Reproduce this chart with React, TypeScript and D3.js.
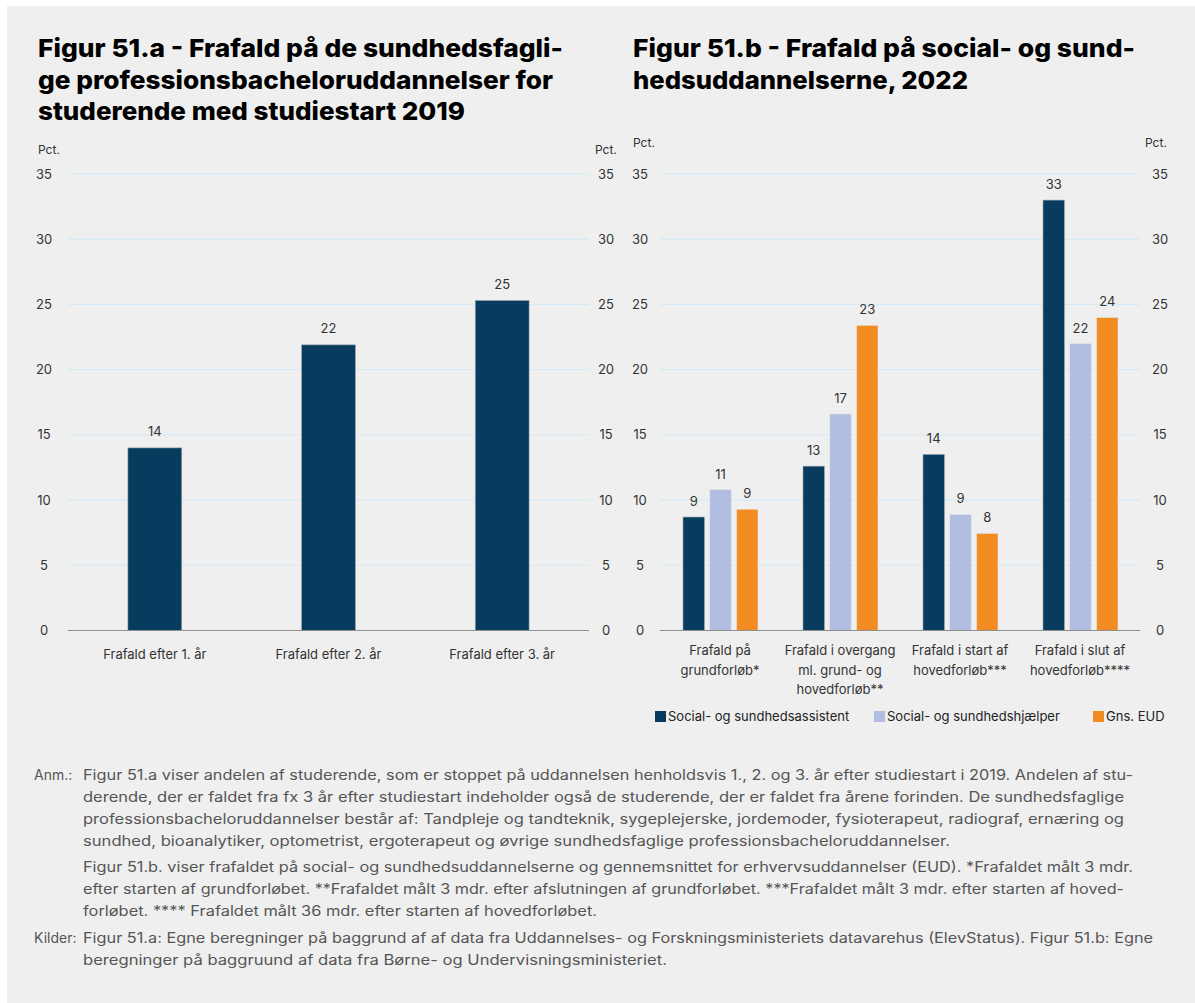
import React from "react";
import * as d3 from "d3";

const catsA = ["Frafald efter 1. år", "Frafald efter 2. år", "Frafald efter 3. år"];
const valuesA = [14.0, 21.9, 25.3];
const labelsA = ["14", "22", "25"];

const catsB = [
  ["Frafald på", "grundforløb*"],
  ["Frafald i overgang", "ml. grund- og", "hovedforløb**"],
  ["Frafald i start af", "hovedforløb***"],
  ["Frafald i slut af", "hovedforløb****"],
];
const seriesNames = ["Social- og sundhedsassistent", "Social- og sundhedshjælper", "Gns. EUD"];
const assistent = [8.7, 12.6, 13.5, 33.0];
const hjaelper = [10.8, 16.6, 8.9, 22.0];
const eud = [9.3, 23.4, 7.45, 24.0];
const labelsAssistent = ["9", "13", "14", "33"];
const labelsHjaelper = ["11", "17", "9", "22"];
const labelsEud = ["9", "23", "8", "24"];
const ticks = [0, 5, 10, 15, 20, 25, 30, 35];

const titleA = [
  "Figur 51.a - Frafald på de sundhedsfagli-",
  "ge professionsbacheloruddannelser for",
  "studerende med studiestart 2019",
];
const titleB = ["Figur 51.b - Frafald på social- og sund-", "hedsuddannelserne, 2022"];

const notes = [
  { head: "Anm.:", text: "Figur 51.a viser andelen af studerende, som er stoppet på uddannelsen henholdsvis 1., 2. og 3. år efter studiestart i 2019. Andelen af stu-", w: 1050 },
  { head: "", text: "derende, der er faldet fra fx 3 år efter studiestart indeholder også de studerende, der er faldet fra årene forinden. De sundhedsfaglige", w: 1041 },
  { head: "", text: "professionsbacheloruddannelser består af: Tandpleje og tandteknik, sygeplejerske, jordemoder, fysioterapeut, radiograf, ernæring og", w: 1041 },
  { head: "", text: "sundhed, bioanalytiker, optometrist, ergoterapeut og øvrige sundhedsfaglige professionsbacheloruddannelser.", w: 867 },
  { head: "", text: "Figur 51.b. viser frafaldet på social- og sundhedsuddannelserne og gennemsnittet for erhvervsuddannelser (EUD). *Frafaldet målt 3 mdr.", w: 1050 },
  { head: "", text: "efter starten af grundforløbet. **Frafaldet målt 3 mdr. efter afslutningen af grundforløbet. ***Frafaldet målt 3 mdr. efter starten af hoved-", w: 1041 },
  { head: "", text: "forløbet. **** Frafaldet målt 36 mdr. efter starten af hovedforløbet.", w: 514 },
  { head: "Kilder:", text: "Figur 51.a: Egne beregninger på baggrund af af data fra Uddannelses- og Forskningsministeriets datavarehus (ElevStatus). Figur 51.b: Egne", w: 1070 },
  { head: "", text: "beregninger på baggruund af data fra Børne- og Undervisningsministeriet.", w: 584 },
];
const noteY = [780, 802, 824, 846, 872, 894, 916, 943, 965];

const colors = ["#083c5e", "#b1bde1", "#f28c22"];
const FONT = "Inter, 'Open Sans', sans-serif";

export default function App() {
  const y = d3.scaleLinear().domain([0, 35]).range([630.5, 174]);

  const xA = d3.scaleBand().domain(catsA).range([68, 589]).paddingInner(0.69).paddingOuter(0.345);
  const xB = d3.scaleBand().domain(catsB.map((c) => c.join(" "))).range([660, 1140]);
  const xInner = d3.scaleBand().domain(seriesNames).range([23, 98]).paddingInner(0.2);

  const seriesB = [assistent, hjaelper, eud];
  const seriesLabels = [labelsAssistent, labelsHjaelper, labelsEud];

  const tickText = { fontFamily: FONT, fontSize: 13, fill: "#333" } as const;

  return (
    <div style={{ position: "absolute", left: 0, top: 0 }}>
      <svg width={1195} height={1003} style={{ display: "block", background: "#fff" }}>
        <rect x={7} y={6} width={1188} height={997} fill="#efefef" />

        {/* Titles */}
        {titleA.map((t, i) => (
          <text key={"ta" + i} x={38} y={57 + i * 31.5} fontFamily={FONT} fontWeight={800} fontSize={25} fill="#000"
            textLength={[525, 515, 427][i]} lengthAdjust="spacingAndGlyphs">{t}</text>
        ))}
        {titleB.map((t, i) => (
          <text key={"tb" + i} x={633} y={57 + i * 31.5} fontFamily={FONT} fontWeight={800} fontSize={25} fill="#000"
            textLength={[502, 335][i]} lengthAdjust="spacingAndGlyphs">{t}</text>
        ))}

        {/* Chart A */}
        <text x={38} y={154} {...tickText} fontSize={12}>Pct.</text>
        <text x={595} y={154} {...tickText} fontSize={12}>Pct.</text>
        {ticks.map((t) => (
          <g key={"ga" + t}>
            {t > 0 && <line x1={68} x2={589} y1={y(t)} y2={y(t)} stroke="#d2e8f6" strokeWidth={1} />}
            <text x={44} y={y(t) + 4.5} textAnchor="middle" {...tickText}>{t}</text>
            <text x={606} y={y(t) + 4.5} textAnchor="middle" {...tickText}>{t}</text>
          </g>
        ))}
        {catsA.map((c, i) => (
          <g key={"ba" + i}>
            <rect x={xA(c)!} y={y(valuesA[i])} width={xA.bandwidth()} height={y(0) - y(valuesA[i])} fill={colors[0]} stroke="#9aa6b2" strokeWidth={0.6} />
            <text x={xA(c)! + xA.bandwidth() / 2} y={y(valuesA[i]) - 12} textAnchor="middle" {...tickText}>{labelsA[i]}</text>
            <text x={xA(c)! + xA.bandwidth() / 2} y={659} textAnchor="middle" {...tickText}>{c}</text>
          </g>
        ))}
        <line x1={68} x2={589} y1={y(0)} y2={y(0)} stroke="#8f8f8f" strokeWidth={1.2} />

        {/* Chart B */}
        <text x={633} y={147} {...tickText} fontSize={12}>Pct.</text>
        <text x={1145} y={147} {...tickText} fontSize={12}>Pct.</text>
        {ticks.map((t) => (
          <g key={"gb" + t}>
            {t > 0 && <line x1={660} x2={1140} y1={y(t)} y2={y(t)} stroke="#d2e8f6" strokeWidth={1} />}
            <text x={640} y={y(t) + 4.5} textAnchor="middle" {...tickText}>{t}</text>
            <text x={1160} y={y(t) + 4.5} textAnchor="middle" {...tickText}>{t}</text>
          </g>
        ))}
        {catsB.map((c, i) => {
          const gx = xB(c.join(" "))!;
          return (
            <g key={"gbb" + i}>
              {seriesB.map((s, j) => (
                <g key={j}>
                  <rect x={gx + xInner(seriesNames[j])!} y={y(s[i])} width={xInner.bandwidth()} height={y(0) - y(s[i])} fill={colors[j]} stroke={j === 0 ? "#9aa6b2" : "#e6e6e6"} strokeWidth={0.6} />
                  <text x={gx + xInner(seriesNames[j])! + xInner.bandwidth() / 2} y={y(s[i]) - 11} textAnchor="middle" {...tickText}>{seriesLabels[j][i]}</text>
                </g>
              ))}
              {c.map((line, k) => (
                <text key={k} x={gx + xB.bandwidth() / 2} y={655 + k * 19.5} textAnchor="middle" {...tickText}>{line}</text>
              ))}
            </g>
          );
        })}
        <line x1={660} x2={1140} y1={y(0)} y2={y(0)} stroke="#8f8f8f" strokeWidth={1.2} />

        {/* Legend */}
        {seriesNames.map((n, j) => {
          const lx = [655, 874, 1093][j];
          return (
            <g key={"lg" + j}>
              <rect x={lx} y={711} width={11} height={11} fill={colors[j]} />
              <text x={lx + 13} y={721} {...tickText} fill="#222">{n}</text>
            </g>
          );
        })}

        {/* Notes */}
        {notes.map((n, i) => (
          <g key={"n" + i}>
            {n.head && <text x={34} y={noteY[i]} fontFamily={FONT} fontSize={14} fill="#555">{n.head}</text>}
            <text x={83} y={noteY[i]} fontFamily={FONT} fontSize={14} fill="#555" textLength={n.w} lengthAdjust="spacingAndGlyphs">{n.text}</text>
          </g>
        ))}
      </svg>
    </div>
  );
}
